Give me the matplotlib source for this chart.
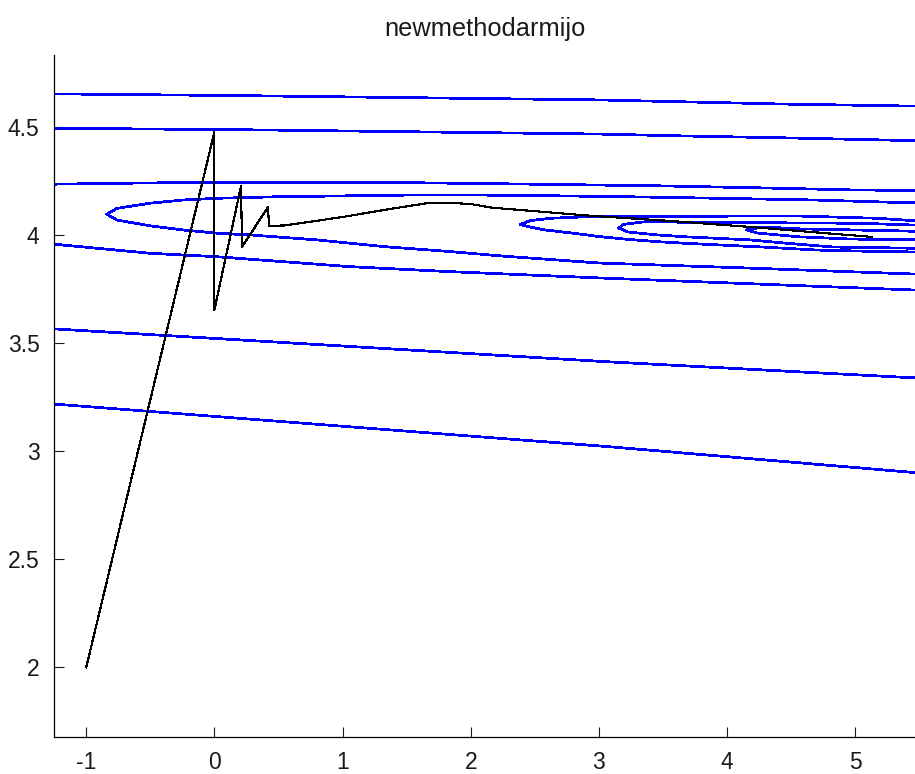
import matplotlib
matplotlib.use("Agg")
import matplotlib.pyplot as plt

plt.rcParams['font.family'] = ['Liberation Sans', 'DejaVu Sans']

# iterate path of the optimiser (x, y)
path_x = [-1.0, 0.0, 0.0, 0.208, 0.215, 0.418, 0.426, 0.55, 1.0, 1.4, 1.65, 1.85,
          2.0, 2.17, 2.95, 3.55, 4.18, 4.75, 5.13]
path_y = [2.0, 4.479, 3.655, 4.229, 3.946, 4.131, 4.044, 4.046, 4.085, 4.125, 4.148,
          4.150, 4.145, 4.128, 4.090, 4.067, 4.039, 4.011, 3.993]

# level curves of the objective, listed as (x, y) polylines
level_A_x = [-1.25, 0.2, 3.0, 4.43, 5.5]
level_A_y = [4.655, 4.647, 4.627, 4.608, 4.598]

level_B_x = [-1.25, 0.38, 3.0, 3.68, 4.49, 5.5]
level_B_y = [4.496, 4.488, 4.469, 4.46, 4.451, 4.438]

level_C_x = [-1.25, -0.48, 1.5, 2.35, 3.5, 4.33, 5.0, 5.5]
level_C_y = [4.237, 4.243, 4.244, 4.238, 4.229, 4.219, 4.21, 4.208]

level_D_x = [-1.25, -0.5, 0.02, 1.06, 1.84, 3.0, 5.5]
level_D_y = [3.959, 3.917, 3.901, 3.855, 3.832, 3.803, 3.746]

level_E_x = [-1.25, 3.09, 5.5]
level_E_y = [3.567, 3.414, 3.339]

level_F_x = [-1.25, 3.09, 5.5]
level_F_y = [3.219, 3.021, 2.90]

# closed level curves around the valley: upper branch then lower branch from the tip
ring1_upper_x = [-0.84, -0.76, -0.5, -0.24, 0.04, 0.51, 1.58, 2.3, 3.3, 3.9, 4.66, 5.3, 5.5]
ring1_upper_y = [4.098, 4.125, 4.149, 4.164, 4.172, 4.179, 4.187, 4.186, 4.178, 4.172,
                 4.164, 4.153, 4.152]
ring1_lower_x = [-0.84, -0.76, -0.5, -0.245, 0.02, 0.28, 0.8, 1.32, 1.84, 2.23, 3.0, 4.2, 5.5]
ring1_lower_y = [4.098, 4.071, 4.044, 4.025, 4.01, 4.002, 3.979, 3.948, 3.925, 3.905,
                 3.872, 3.848, 3.82]

ring2_upper_x = [2.386, 2.464, 2.62, 2.931, 4.53, 5.177, 5.5]
ring2_upper_y = [4.051, 4.068, 4.079, 4.087, 4.09, 4.079, 4.066]
ring2_lower_x = [2.386, 2.464, 2.581, 2.854, 3.008, 3.217, 3.451, 3.685, 4.309, 4.699,
                 5.193, 5.5]
ring2_lower_y = [4.051, 4.038, 4.025, 4.006, 3.994, 3.982, 3.971, 3.963, 3.945, 3.932,
                 3.925, 3.923]

ring3_upper_x = [3.157, 3.19, 3.36, 3.789, 5.037, 5.5]
ring3_upper_y = [4.034, 4.051, 4.063, 4.06, 4.056, 4.047]
ring3_lower_x = [3.157, 3.219, 3.453, 3.687, 4.179, 4.436, 4.826, 5.5]
ring3_lower_y = [4.034, 4.016, 4.002, 3.993, 3.979, 3.965, 3.946, 3.94]

ring4_upper_x = [4.155, 4.28, 4.569, 5.404, 5.5]
ring4_upper_y = [4.025, 4.039, 4.03, 4.02, 4.016]
ring4_lower_x = [4.155, 4.233, 4.569, 4.959, 5.5]
ring4_lower_y = [4.025, 4.011, 3.993, 3.983, 3.979]

x_ticks = [-1, 0, 1, 2, 3, 4, 5]
y_ticks = [2, 2.5, 3, 3.5, 4, 4.5]
y_tick_labels = ['2', '2.5', '3', '3.5', '4', '4.5']

W, H = 915, 774
fig = plt.figure(figsize=(W / 100, H / 100), dpi=100)
ax = fig.add_axes([54.2 / W, (H - 736.7) / H, 861.3 / W, 681.7 / H])

blue = '#0000ff'
curves = [
    (level_A_x, level_A_y), (level_B_x, level_B_y), (level_C_x, level_C_y),
    (level_D_x, level_D_y), (level_E_x, level_E_y), (level_F_x, level_F_y),
    (ring1_upper_x, ring1_upper_y), (ring1_lower_x, ring1_lower_y),
    (ring2_upper_x, ring2_upper_y), (ring2_lower_x, ring2_lower_y),
    (ring3_upper_x, ring3_upper_y), (ring3_lower_x, ring3_lower_y),
    (ring4_upper_x, ring4_upper_y), (ring4_lower_x, ring4_lower_y),
]
for cx, cy in curves:
    ax.plot(cx, cy, color=blue, lw=1.25, antialiased=False, solid_joinstyle='miter')

ax.plot(path_x, path_y, color='black', lw=0.8, antialiased=False)

ax.set_xlim(-1.25, 5.47)
ax.set_ylim(1.679, 4.835)
ax.set_xticks(x_ticks)
ax.set_xticklabels([str(v) for v in x_ticks])
ax.set_yticks(y_ticks)
ax.set_yticklabels(y_tick_labels)

for side in ('top', 'right'):
    ax.spines[side].set_visible(False)
for side in ('left', 'bottom'):
    ax.spines[side].set_linewidth(0.9)
ax.tick_params(direction='in', length=7.2, width=0.8, pad=10.5,
               labelsize=16.5, colors='#1a1a1a')

ax.set_title('newmethodarmijo', fontsize=18.3, pad=14.0, color='#1a1a1a')

fig.savefig('out.png', dpi=100)
